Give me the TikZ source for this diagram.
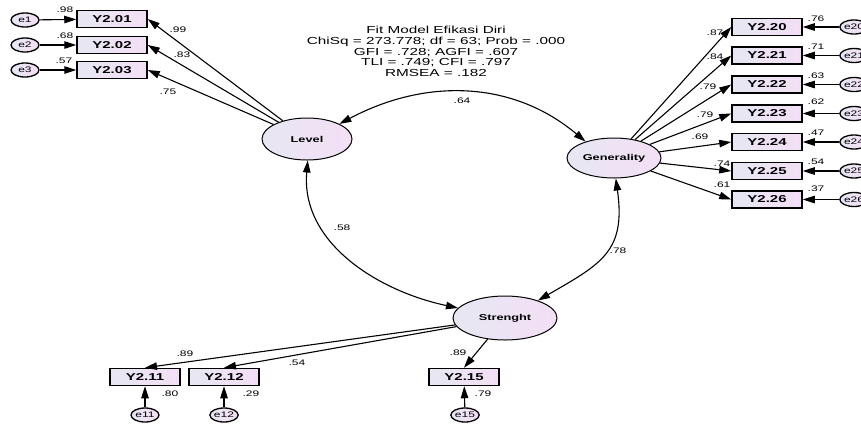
\documentclass[tikz,border=0pt]{standalone}
\usepackage{fontspec}
\newfontfamily\amosfont{Liberation Sans}[FakeStretch=1.5]
\usetikzlibrary{arrows.meta,shapes.geometric}
\definecolor{shadeL}{RGB}{231,231,242}
\definecolor{shadeR}{RGB}{243,223,246}

\begin{document}
\begin{tikzpicture}[x=1pt,y=1pt,
  every node/.style={font=\amosfont},
  obs/.style={draw, line width=1.5pt, minimum width=70pt, minimum height=17pt,
    inner sep=0pt, left color=shadeL, right color=shadeR,
    font=\amosfont\bfseries\fontsize{10}{10}\selectfont},
  lat/.style={ellipse, draw, line width=1pt, minimum width=90pt,
    minimum height=42pt, inner sep=0pt, left color=shadeL, right color=shadeR,
    font=\amosfont\bfseries\fontsize{8.5}{9}\selectfont},
  err/.style={ellipse, draw, line width=1.3pt, minimum width=28pt,
    minimum height=14pt, inner sep=0pt, left color=shadeL, right color=shadeR,
    font=\amosfont\fontsize{8}{8}\selectfont},
  coef/.style={font=\amosfont\fontsize{8}{8}\selectfont, inner sep=0pt},
  reg/.style={line width=1.1pt, -{Triangle[length=12pt,width=7.5pt]}},
  covar/.style={line width=1.1pt,
    {Triangle[length=12pt,width=7.5pt]}-{Triangle[length=12pt,width=7.5pt]}},
]
\useasboundingbox (0,0) rectangle (861,-424);

% fit statistics
\node[align=center, font=\amosfont\fontsize{10.2}{10.75}\selectfont]
  (fit) at (436,-51.5)
  {Fit Model Efikasi Diri\\ChiSq = 273.778; df = 63; Prob = .000\\
   GFI = .728; AGFI = .607\\TLI = .749; CFI = .797\\RMSEA = .182};

% latent factors
\node[lat] (lev) at (307,-139) {Level};
\node[lat, minimum width=94pt, minimum height=40pt] (gen) at (614,-158) {Generality};
\node[lat, minimum width=104pt, minimum height=44pt] (str) at (505,-318) {Strenght};

% Level indicators
\foreach \i/\y in {01/19,02/45,03/70}{
  \node[obs] (y2\i) at (112,-\y) {Y2.\i};
}
\node[err] (e1) at (25,-20) {e1};
\node[err] (e2) at (25,-45) {e2};
\node[err] (e3) at (25,-70) {e3};
\foreach \e/\b in {e1/y201,e2/y202,e3/y203}{
  \draw[reg] (\e) -- (\b);
  \draw[reg] (lev) -- (\b.east);
}

% Generality indicators
\foreach \i/\y in {20/27,21/55.5,22/84.5,23/113.5,24/142,25/171,26/199.5}{
  \node[obs] (y2\i) at (767,-\y) {Y2.\i};
  \node[err] (e\i) at (854,-\y) {e\i};
  \draw[reg] (e\i) -- (y2\i);
  \draw[reg] (gen) -- (y2\i.west);
}

% Strenght indicators
\node[obs] (y211) at (145,-377) {Y2.11};
\node[obs] (y212) at (224,-377) {Y2.12};
\node[obs] (y215) at (464,-377) {Y2.15};
\node[err] (e11) at (145,-415) {e11};
\node[err] (e12) at (224,-415) {e12};
\node[err] (e15) at (465,-415) {e15};
\draw[reg] (e11) -- (y211);
\draw[reg] (e12) -- (y212);
\draw[reg] (e15) -- (y215);
\draw[reg] (str) -- (y211.north);
\draw[reg] (str) -- (y212.north);
\draw[reg] (str) -- (y215.north);

% factor covariances
\draw[covar] (lev.25) to[out=28,in=140] (gen.150);
\draw[covar] (lev.-88) to[out=-95,in=168] (str.168);
\draw[covar] (gen.-85) to[out=-82,in=30,looseness=1.3] (str.28);

% estimates
\node[coef] at (65,-10) {.98};
\node[coef] at (65,-36) {.68};
\node[coef] at (64,-61) {.57};
\node[coef] at (178,-30) {.99};
\node[coef] at (182,-55) {.83};
\node[coef] at (168,-92) {.75};

\foreach \v/\y in {.76/19,.71/47,.63/76,.62/102,.47/133,.54/162,.37/189}{
  \node[coef] at (816,-\y) {\v};
}
\node[coef] at (715,-33) {.87};
\node[coef] at (715,-57) {.84};
\node[coef] at (708,-87) {.79};
\node[coef] at (705,-115) {.79};
\node[coef] at (700,-137) {.69};
\node[coef] at (722,-164) {.74};
\node[coef] at (722,-185) {.61};

\node[coef] at (185,-354) {.89};
\node[coef] at (297,-363) {.54};
\node[coef] at (458,-353) {.89};
\node[coef] at (170,-394) {.80};
\node[coef] at (251,-394) {.29};
\node[coef] at (483,-394) {.79};

\node[coef] at (462,-101) {.64};
\node[coef] at (342,-228) {.58};
\node[coef] at (618,-251) {.78};
\end{tikzpicture}
\end{document}
